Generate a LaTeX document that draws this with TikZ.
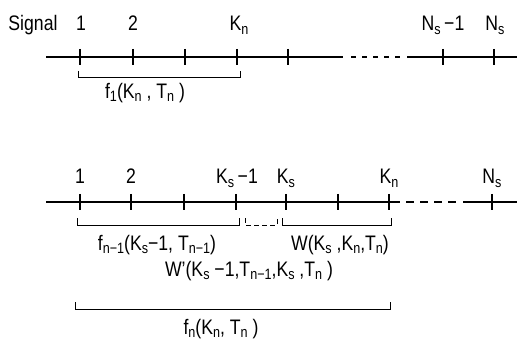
\documentclass[tikz,border=0pt]{standalone}
\usepackage{fontspec}
\setmainfont{Liberation Sans}[FakeStretch=0.84]
\newcommand{\lo}[1]{\raisebox{-0.3ex}{\fontsize{15}{15}\selectfont #1}}
\newcommand{\lbfont}{\fontsize{21}{21}\selectfont}
\begin{document}
\begin{tikzpicture}[x=1pt,y=-1pt,
  mainline/.style={line width=2.4pt},
  tickmark/.style={line width=1.5pt},
  brace/.style={line width=1pt},
  lbl/.style={inner sep=0pt, anchor=base, font=\lbfont},
  flbl/.style={inner sep=0pt, anchor=center, font=\lbfont}]
\useasboundingbox (0,0) rectangle (517,342);
% ---------- top line ----------
\coordinate (t0) at (46,57);
\coordinate (t1) at (343,57);
\coordinate (t2) at (351,57);
\coordinate (t3) at (401,57);
\coordinate (t4) at (407,57);
\coordinate (t5) at (517,57);
\draw[mainline] (t0) -- (t1);
\draw[mainline, dash pattern=on 5pt off 6pt] (t2) -- (t3);
\draw[mainline] (t4) -- (t5);
\foreach \x/\n in {80/a1,133/a2,185/a3,237/a4,288/a5,443/a6,494/a7}{
  \coordinate (\n) at (\x,57);
  \draw[tickmark] ([yshift=8pt]\n) -- ([yshift=-8pt]\n);
}
\node[lbl] (sig) at (33,31) {Signal};
\node[lbl] (l1) at (81,31) {1};
\node[lbl] (l2) at (133,31) {2};
\node[lbl] (lkn) at (239,31) {K\lo{n}};
\node[lbl] (lns1) at (443,31) {N\lo{s}\,−1};
\node[lbl] (lns) at (495,31) {N\lo{s}};
\coordinate (b1l) at (78,71);
\coordinate (b1r) at (240,71);
\draw[brace] (b1l) -- ++(0,7) -| (b1r);
\node[flbl] (f1) at (145,93) {f\lo{1}(K\lo{n} , T\lo{n} )};
% ---------- bottom line ----------
\coordinate (s0) at (46,202);
\coordinate (s1) at (400,202);
\coordinate (s2) at (406,202);
\coordinate (s3) at (456,202);
\coordinate (s4) at (463,202);
\coordinate (s5) at (517,202);
\draw[mainline] (s0) -- (s1);
\draw[mainline, dash pattern=on 8pt off 6pt] (s2) -- (s3);
\draw[mainline] (s4) -- (s5);
\foreach \x/\n in {80/c1,131/c2,184/c3,236/c4,286/c5,338/c6,389/c7,492/c8}{
  \coordinate (\n) at (\x,202);
  \draw[tickmark] ([yshift=8pt]\n) -- ([yshift=-8pt]\n);
}
\node[lbl] (m1) at (80,184) {1};
\node[lbl] (m2) at (131,184) {2};
\node[lbl] (mks1) at (237,184) {K\lo{s}\,−1};
\node[lbl] (mks) at (286,184) {K\lo{s}};
\node[lbl] (mkn) at (389,184) {K\lo{n}};
\node[lbl] (mns) at (492,184) {N\lo{s}};
\coordinate (b2l) at (77,218);
\coordinate (b2r) at (239,218);
\draw[brace] (b2l) -- ++(0,7) -| (b2r);
\coordinate (b3l) at (245,218);
\coordinate (b3r) at (277,218);
\draw[brace, dash pattern=on 5pt off 3pt] (b3l) -- ++(0,7) -| (b3r);
\coordinate (b4l) at (282,218);
\coordinate (b4r) at (391,218);
\draw[brace] (b4l) -- ++(0,7) -| (b4r);
\node[flbl] (fn1) at (157,245) {f\lo{n−1}(K\lo{s}−1, T\lo{n−1})};
\node[flbl] (wl) at (340,245) {W(K\lo{s} ,K\lo{n},T\lo{n})};
\node[flbl] (wp) at (249,271) {W'(K\lo{s} −1,T\lo{n−1},K\lo{s} ,T\lo{n} )};
\coordinate (b5l) at (75,302);
\coordinate (b5r) at (390,302);
\draw[brace] (b5l) -- ++(0,7) -| (b5r);
\node[flbl] (fn) at (221,329) {f\lo{n}(K\lo{n}, T\lo{n} )};
\end{tikzpicture}
\end{document}
